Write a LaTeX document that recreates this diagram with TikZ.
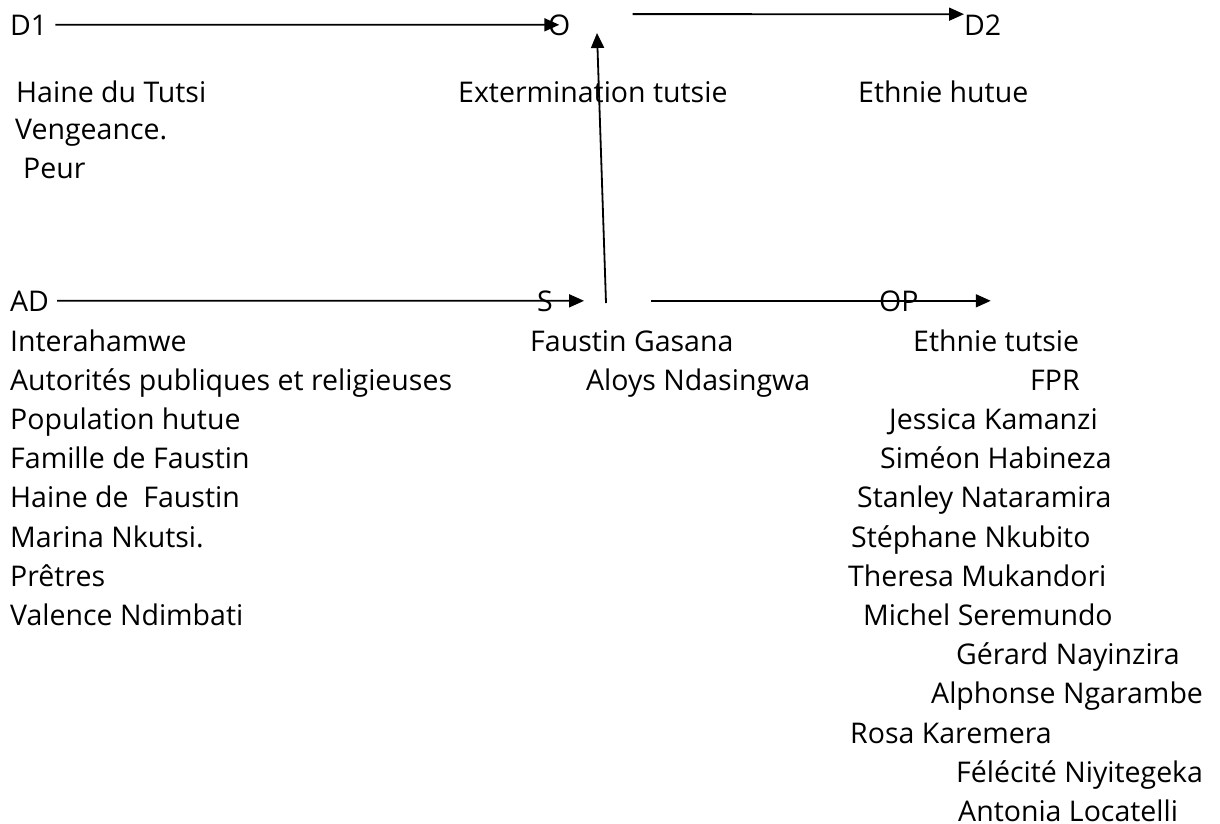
\documentclass[tikz,border=0pt]{standalone}
\usepackage{fontspec}
\setmainfont{Open Sans}
\usetikzlibrary{arrows.meta}

\begin{document}
\begin{tikzpicture}[x=1pt, y=-1pt, >={Triangle[length=15pt,width=13pt]}, font=\fontsize{28.5}{34}\selectfont]
\tikzstyle{lbl}=[inner sep=0pt, anchor=base west]
\tikzstyle{fleche}=[->, line width=1.8pt]
\useasboundingbox[fill=white] (0,0) rectangle (1220,823);
% axe du desir
\node[lbl] (d1) at (10,35) {D1};
\node[lbl] (o) at (548,35) {O};
\node[lbl] (d2) at (964,35) {D2};
\node[lbl] (d1a) at (16,102) {Haine du Tutsi};
\node[lbl] (d1b) at (15,139) {Vengeance.};
\node[lbl] (d1c) at (23,178) {Peur};
\node[lbl] (obj) at (458,102) {Extermination tutsie};
\node[lbl] (d2a) at (858,102) {Ethnie hutue};
% axe du pouvoir
\node[lbl] (ad) at (10,311) {AD};
\node[lbl] (s) at (537,311) {S};
\node[lbl] (op) at (879,311) {OP};
\coordinate (sbas) at (606,303);
\coordinate (ohaut) at (597,33);
% adjuvants
\node[lbl] (ad1) at (10,351) {Interahamwe};
\node[lbl] (ad2) at (10,390.2) {Autorités publiques et religieuses};
\node[lbl] (ad3) at (10,429.4) {Population hutue};
\node[lbl] (ad4) at (10,468.6) {Famille de Faustin};
\node[lbl] (ad5) at (10,507.8) {Haine de~ Faustin};
\node[lbl] (ad6) at (10,547) {Marina Nkutsi.};
\node[lbl] (ad7) at (10,586.2) {Prêtres};
\node[lbl] (ad8) at (10,625.4) {Valence Ndimbati};
% sujets
\node[lbl] (s1) at (530,351) {Faustin Gasana};
\node[lbl] (s2) at (586,390.2) {Aloys Ndasingwa};
% opposants
\node[lbl] (op1) at (913,351) {Ethnie tutsie};
\node[lbl] (op2) at (1030,390.2) {FPR};
\node[lbl] (op3) at (889,429.4) {Jessica Kamanzi};
\node[lbl] (op4) at (880,468.6) {Siméon Habineza};
\node[lbl] (op5) at (857,507.8) {Stanley Nataramira};
\node[lbl] (op6) at (851,547) {Stéphane Nkubito};
\node[lbl] (op7) at (848,586.2) {Theresa Mukandori};
\node[lbl] (op8) at (863,625.4) {Michel Seremundo};
\node[lbl] (op9) at (956,664.6) {Gérard Nayinzira};
\node[lbl] (op10) at (931,703.8) {Alphonse Ngarambe};
\node[lbl] (op11) at (850,743) {Rosa Karemera};
\node[lbl] (op12) at (956,782.2) {Félécité Niyitegeka};
\node[lbl] (op13) at (958,821.4) {Antonia Locatelli};
% fleches
\draw[fleche] ([xshift=8pt]d1.east) -- (o.center);
\draw[fleche] ([xshift=62pt]o.north east) -- (d2.north west);
\draw[fleche] ([xshift=8pt]ad.east) -- ([xshift=31pt]s.east);
\draw[fleche] ([xshift=-228pt]op.west) -- ([xshift=72pt]op.east);
\draw[fleche] (sbas) -- (ohaut);
\end{tikzpicture}
\end{document}
